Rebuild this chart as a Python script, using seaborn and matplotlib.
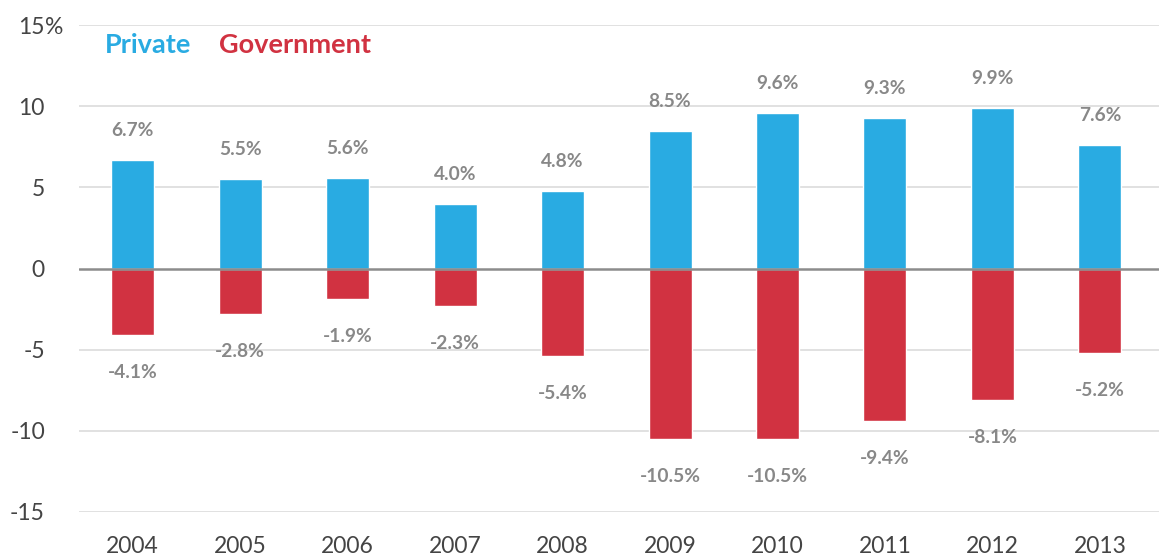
import matplotlib
matplotlib.use("Agg")
import matplotlib.pyplot as plt
import seaborn as sns
import pandas as pd

years = ["2004", "2005", "2006", "2007", "2008", "2009", "2010", "2011", "2012", "2013"]
private = [6.7, 5.5, 5.6, 4.0, 4.8, 8.5, 9.6, 9.3, 9.9, 7.6]
government = [-4.1, -2.8, -1.9, -2.3, -5.4, -10.5, -10.5, -9.4, -8.1, -5.2]
yticks = [15, 10, 5, 0, -5, -10, -15]
ytick_labels = ["15", "10", "5", "0", "-5", "-10", "-15"]

BLUE = "#29abe2"
RED = "#d13241"

sns.set_theme(style="white")
plt.rcParams["font.family"] = ["Lato", "DejaVu Sans"]

df = pd.DataFrame({
    "year": years * 2,
    "value": private + government,
    "series": ["Private"] * len(years) + ["Government"] * len(years),
})

fig = plt.figure(figsize=(11.59, 5.56), dpi=100)
ax = fig.add_axes([79 / 1159, 1 - 512 / 556, 1080 / 1159, 487 / 556])

sns.barplot(data=df, x="year", y="value", hue="series", order=years,
            hue_order=["Private", "Government"], dodge=False, width=0.4,
            palette={"Private": BLUE, "Government": RED}, legend=False,
            saturation=1, ax=ax, zorder=3)

ax.set_ylim(-15, 15)
ax.set_xlim(-0.5, 9.55)
ax.set_yticks(yticks)
ax.set_yticklabels(ytick_labels)
for y in yticks:
    if y != 0:
        ax.axhline(y, color="#dcdcdc", lw=1.2, zorder=1)
ax.axhline(0, color="#8c8c8c", lw=1.8, zorder=4)
for s in ax.spines.values():
    s.set_visible(False)
ax.set_xlabel("")
ax.set_ylabel("")
ax.tick_params(axis="y", labelsize=16.5, labelcolor="#444444", length=0, pad=24.5)
ax.tick_params(axis="x", labelsize=16.5, labelcolor="#444444", length=0, pad=17)

# percent sign after the top tick label
ax.text(-34 / 1080, 15, "%", transform=ax.get_yaxis_transform(), ha="left",
        va="center_baseline", fontsize=16.5, color="#444444")

for i, (p, g) in enumerate(zip(private, government)):
    ax.text(i, p + 1.8, f"{p:.1f}%", ha="center", va="center",
            fontsize=13.8, fontweight="bold", color="#888888")
    ax.text(i, g - 2.3, f"{g:.1f}%", ha="center", va="center",
            fontsize=13.8, fontweight="bold", color="#888888")

fig.text(105 / 1159, 1 - 45 / 556, "Private", color=BLUE, fontsize=19.5,
         fontweight="bold", va="center", ha="left")
fig.text(219 / 1159, 1 - 45 / 556, "Government", color=RED, fontsize=19.5,
         fontweight="bold", va="center", ha="left")

fig.savefig("out.png", dpi=100)
